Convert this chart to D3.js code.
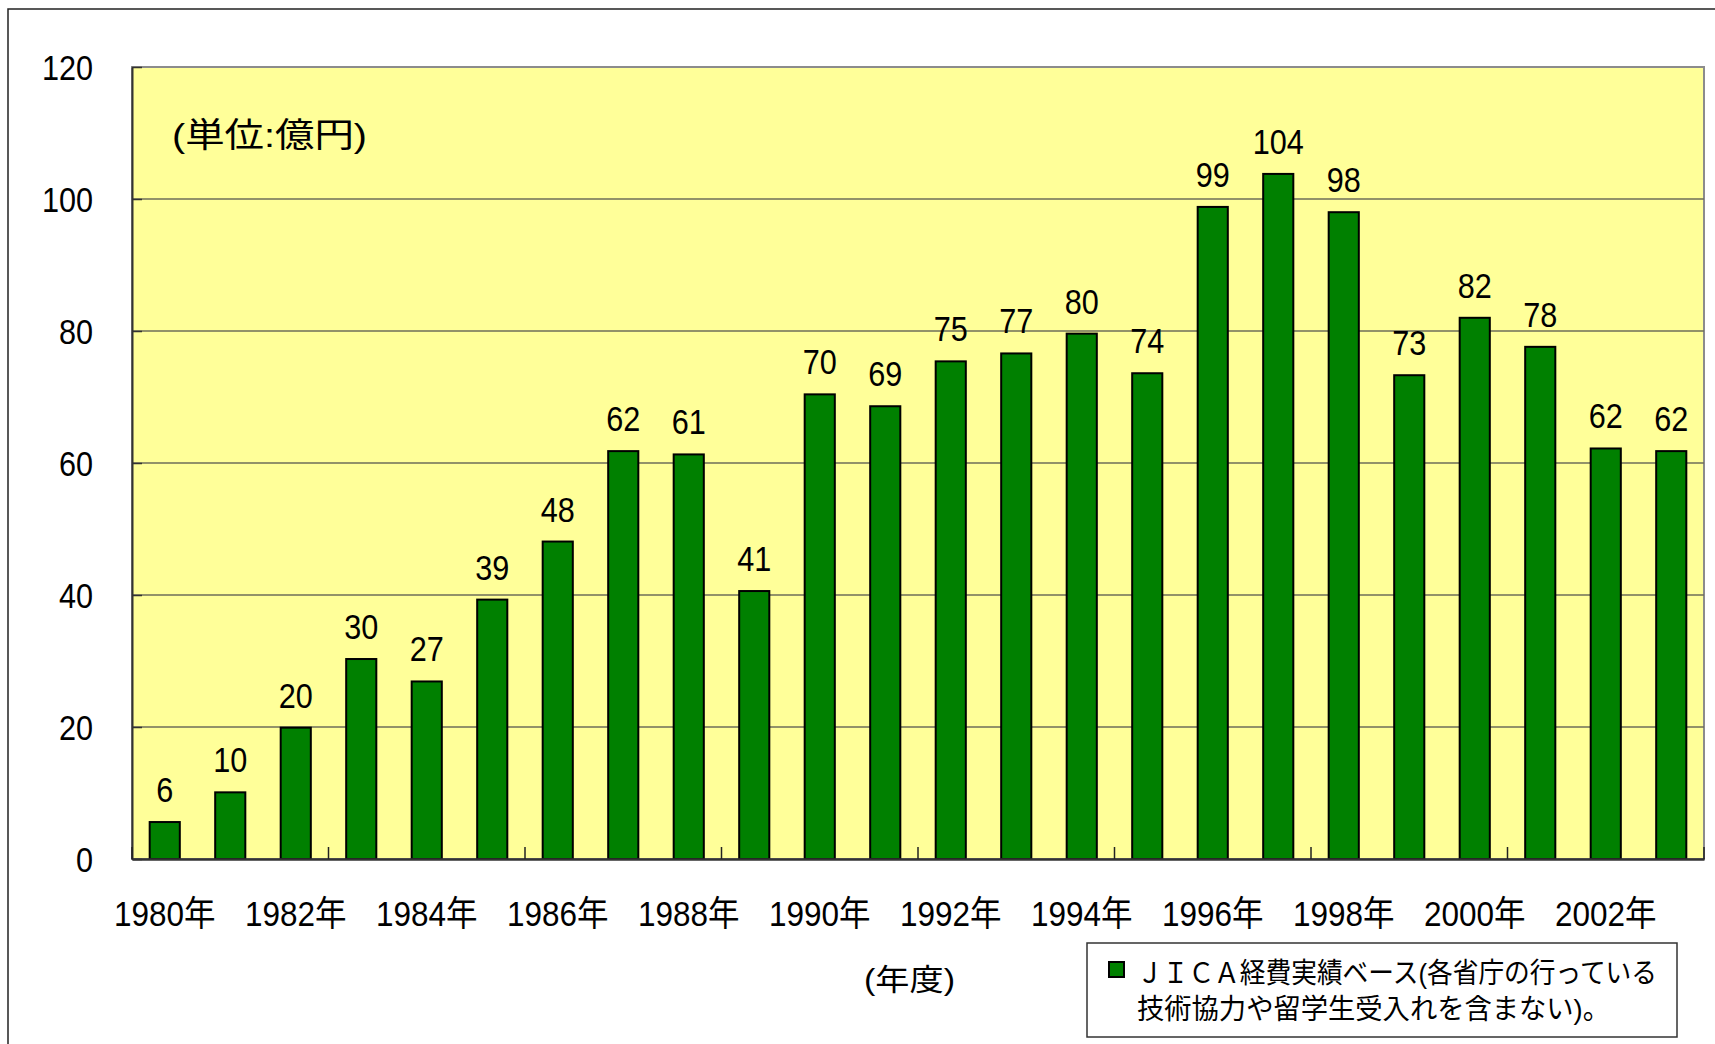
<!DOCTYPE html>
<html>
<head>
<meta charset="utf-8">
<script src="https://cdn.jsdelivr.net/npm/d3@7"></script>
<style>
  body { margin: 0; background: #fff; }
  text { font-family: "Liberation Sans", Arial, "Noto Sans CJK JP", sans-serif; fill: #000; }
</style>
</head>
<body>
<svg id="chart" width="1715" height="1044"></svg>
<script>
// Fiscal years
const categories = ["1980", "1981", "1982", "1983", "1984", "1985", "1986", "1987",
  "1988", "1989", "1990", "1991", "1992", "1993", "1994", "1995",
  "1996", "1997", "1998", "1999", "2000", "2001", "2002", "2003"];

// JICA expenses (100 million yen)
const values = [5.6, 10.1, 19.9, 30.3, 26.9, 39.3, 48.1, 61.8,
  61.3, 40.6, 70.4, 68.6, 75.4, 76.6, 79.6, 73.6,
  98.8, 103.8, 98.0, 73.3, 82.0, 77.6, 62.2, 61.8];

// Axis ticks
const yTicks = [0, 20, 40, 60, 80, 100, 120];
const xTickCats = ["1980", "1982", "1984", "1986", "1988", "1990", "1992", "1994", "1996", "1998", "2000", "2002"];

const unitLabel = "(単位:億円)";
const xTitle = "(年度)";
const legendLines = ["ＪＩＣＡ経費実績ベース(各省庁の行っている", "技術協力や留学生受入れを含まない)。"];

// Dimensions
const plotLeft = 132, plotRight = 1704, plotTop = 67, plotBottom = 859;
const sx = 0.875; // narrow glyphs

const svg = d3.select("#chart");

// Outer frame
svg.append("rect")
  .attr("x", 8).attr("y", 9)
  .attr("width", 1800).attr("height", 1100)
  .attr("fill", "none").attr("stroke", "#222").attr("stroke-width", 1.5);

// Scales
const x = d3.scaleBand()
  .domain(categories)
  .range([plotLeft, plotRight])
  .paddingInner(0.54)
  .paddingOuter(0.27);

const y = d3.scaleLinear()
  .domain([0, 120])
  .range([plotBottom, plotTop]);

// Plot background
svg.append("rect")
  .attr("x", plotLeft).attr("y", plotTop)
  .attr("width", plotRight - plotLeft).attr("height", plotBottom - plotTop)
  .attr("fill", "#ffff99")
  .attr("stroke", "#8c8c8c").attr("stroke-width", 2);

// Gridlines
svg.append("g")
  .selectAll("line")
  .data(yTicks.filter(d => d > 0 && d < 120))
  .enter().append("line")
  .attr("x1", plotLeft).attr("x2", plotRight)
  .attr("y1", d => y(d)).attr("y2", d => y(d))
  .attr("stroke", "#6e6e5a").attr("stroke-width", 1.5);

// Y axis
const yAxis = svg.append("g")
  .attr("transform", "translate(" + plotLeft + ",0)")
  .call(d3.axisLeft(y).tickValues(yTicks).tickSizeInner(-10).tickSizeOuter(0).tickPadding(39));
yAxis.attr("font-family", null).attr("font-size", null);
yAxis.select(".domain").attr("stroke", "#333").attr("stroke-width", 2);
yAxis.selectAll(".tick line").attr("stroke", "#333").attr("stroke-width", 1.5);
yAxis.selectAll(".tick text")
  .attr("x", null)
  .attr("font-size", 35)
  .attr("dy", "0.36em")
  .attr("transform", "translate(-39,0) scale(" + sx + ",1)");

// Bars
svg.append("g")
  .selectAll("rect")
  .data(values)
  .enter().append("rect")
  .attr("x", (d, i) => x(categories[i]))
  .attr("y", d => y(d))
  .attr("width", x.bandwidth())
  .attr("height", d => y(0) - y(d))
  .attr("fill", "#008000")
  .attr("stroke", "#000")
  .attr("stroke-width", 2);

// Value labels
svg.append("g")
  .selectAll("text")
  .data(values)
  .enter().append("text")
  .attr("transform", (d, i) => "translate(" + (x(categories[i]) + x.bandwidth() / 2) + "," + (y(d) - 20) + ") scale(" + sx + ",1)")
  .attr("text-anchor", "middle")
  .attr("font-size", 35)
  .text(d => Math.round(d));

// X axis
const xAxis = svg.append("g")
  .attr("transform", "translate(0," + plotBottom + ")")
  .call(d3.axisBottom(x).tickValues(xTickCats).tickSize(0).tickPadding(0).tickFormat(d => d + "年"));
xAxis.attr("font-family", null).attr("font-size", null);
xAxis.select(".domain").attr("stroke", "#333").attr("stroke-width", 2.5);
xAxis.selectAll(".tick text")
  .attr("y", null)
  .attr("dy", null)
  .attr("font-size", 35)
  .attr("transform", "translate(0,67) scale(0.9,1)");

// Tick marks every 3 categories, pointing up
const tickIdx = [0, 3, 6, 9, 12, 15, 18, 21, 24];
svg.append("g")
  .selectAll("line")
  .data(tickIdx)
  .enter().append("line")
  .attr("x1", d => x(categories[0]) - (x.step() - x.bandwidth()) / 2 + d * x.step())
  .attr("x2", d => x(categories[0]) - (x.step() - x.bandwidth()) / 2 + d * x.step())
  .attr("y1", plotBottom).attr("y2", plotBottom - 12)
  .attr("stroke", "#222").attr("stroke-width", 1.5);

// Unit label
svg.append("text")
  .attr("x", 172).attr("y", 147)
  .attr("font-size", 34)
  .attr("textLength", 195).attr("lengthAdjust", "spacingAndGlyphs")
  .text(unitLabel);

// X title
svg.append("text")
  .attr("x", 864).attr("y", 990)
  .attr("font-size", 30)
  .attr("textLength", 91).attr("lengthAdjust", "spacingAndGlyphs")
  .text(xTitle);

// Legend
const legend = svg.append("g");
legend.append("rect")
  .attr("x", 1087).attr("y", 943)
  .attr("width", 590).attr("height", 94)
  .attr("fill", "#fff").attr("stroke", "#333").attr("stroke-width", 1.5);
legend.append("rect")
  .attr("x", 1109).attr("y", 962)
  .attr("width", 15).attr("height", 15)
  .attr("fill", "#008000").attr("stroke", "#000").attr("stroke-width", 2);
legend.selectAll("text.line")
  .data(legendLines)
  .enter().append("text")
  .attr("class", "line")
  .attr("x", 1137)
  .attr("y", (d, i) => 983 + i * 36)
  .attr("font-size", 28)
  .attr("textLength", (d, i) => i === 0 ? 520 : 473)
  .attr("lengthAdjust", "spacingAndGlyphs")
  .text(d => d);
</script>
</body>
</html>
